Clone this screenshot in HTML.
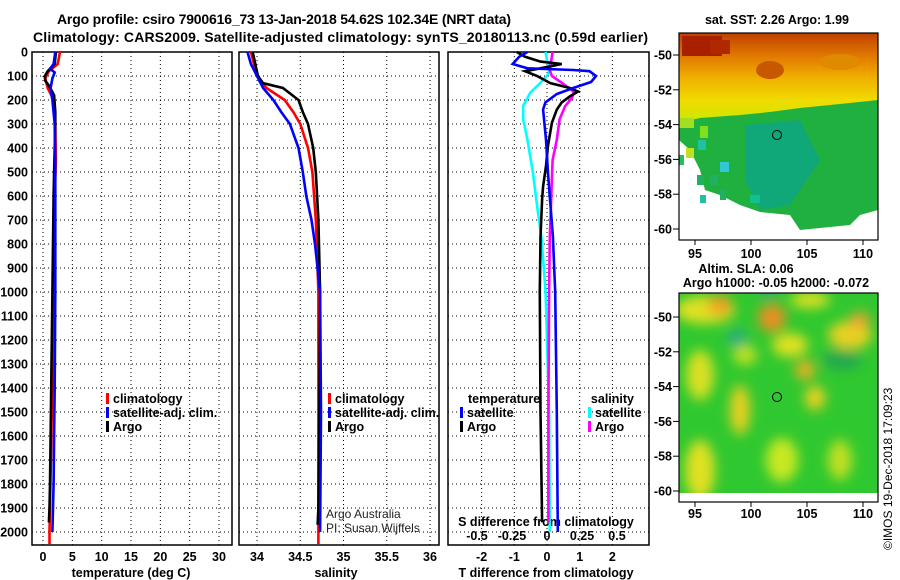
<!DOCTYPE html>
<html><head><meta charset="utf-8"><style>
body{margin:0;background:#fff;}
svg{display:block;font-family:"Liberation Sans",sans-serif;}
.b{font-weight:bold;font-size:12.5px;}
</style></head><body>
<svg id="s" width="900" height="580" xmlns="http://www.w3.org/2000/svg">
<defs>
<filter id="blur" x="-20%" y="-20%" width="140%" height="140%"><feGaussianBlur stdDeviation="6"/></filter>
<clipPath id="c2"><rect x="679" y="293" width="199" height="200"/></clipPath>
<linearGradient id="g1" x1="0" y1="0" x2="0" y2="1">
<stop offset="0" stop-color="#c04000"/><stop offset="0.25" stop-color="#e07800"/><stop offset="0.5" stop-color="#f0b000"/><stop offset="0.75" stop-color="#f0dc00"/><stop offset="1" stop-color="#c8e800"/></linearGradient>
</defs>
<text x="57" y="24" textLength="454" style="font-weight:bold;font-size:14px">Argo profile: csiro 7900616_73 13-Jan-2018 54.62S 102.34E (NRT data)</text>
<text x="33" y="42" textLength="615" style="font-weight:bold;font-size:14px">Climatology: CARS2009. Satellite-adjusted climatology: synTS_20180113.nc (0.59d earlier)</text>

<g>
<rect x="679" y="33" width="199" height="90" fill="url(#g1)"/>
<rect x="682" y="36" width="40" height="20" fill="#a82000"/>
<rect x="710" y="40" width="20" height="14" fill="#b02800"/>
<ellipse cx="770" cy="70" rx="14" ry="9" fill="#c85800"/>
<ellipse cx="840" cy="62" rx="20" ry="8" fill="#e08a00"/>
<polygon points="679,123 700,118 740,115 770,112 800,108 840,104 878,100 878,210 860,215 850,225 800,230 790,215 760,212 740,205 720,195 705,190 700,170 690,150 679,140" fill="#20b040"/>
<polygon points="745,125 800,120 820,160 790,205 760,210 745,180" fill="#10a878"/>
<rect x="679" y="118" width="15" height="10" fill="#a0e020"/>
<rect x="700" y="126" width="8" height="12" fill="#80e020"/>
<rect x="698" y="140" width="8" height="10" fill="#20c0a0"/>
<rect x="679" y="155" width="5" height="10" fill="#20c060"/>
<rect x="686" y="148" width="8" height="10" fill="#c0e020"/>
<rect x="720" y="162" width="9" height="10" fill="#30c8d8"/>
<rect x="697" y="175" width="7" height="10" fill="#20b060"/>
<rect x="710" y="175" width="8" height="10" fill="#20b060"/>
<rect x="720" y="190" width="6" height="10" fill="#20b060"/>
<rect x="700" y="195" width="6" height="8" fill="#20c0a0"/>
<rect x="750" y="195" width="10" height="8" fill="#10c090"/>
<rect x="679" y="232" width="199" height="8" fill="#fff"/>
<circle cx="777" cy="135" r="4.5" fill="none" stroke="#000" stroke-width="1"/>
</g>
<g clip-path="url(#c2)">
<rect x="679" y="293" width="199" height="200" fill="#30c830"/>
<g filter="url(#blur)">
<ellipse cx="705" cy="310" rx="30" ry="14" fill="#e0e020"/>
<ellipse cx="720" cy="305" rx="12" ry="10" fill="#f0a020"/>
<ellipse cx="772" cy="318" rx="14" ry="14" fill="#e89020"/>
<ellipse cx="810" cy="300" rx="20" ry="8" fill="#e0e020"/>
<ellipse cx="850" cy="335" rx="22" ry="14" fill="#e8d020"/>
<ellipse cx="860" cy="320" rx="10" ry="8" fill="#f0a030"/>
<ellipse cx="790" cy="345" rx="18" ry="12" fill="#e0e020"/>
<ellipse cx="805" cy="370" rx="10" ry="10" fill="#e8b020"/>
<ellipse cx="700" cy="375" rx="14" ry="25" fill="#d8e020"/>
<ellipse cx="740" cy="410" rx="10" ry="25" fill="#e8d020"/>
<ellipse cx="745" cy="355" rx="12" ry="10" fill="#c0e020"/>
<ellipse cx="700" cy="470" rx="15" ry="30" fill="#e0e020"/>
<ellipse cx="782" cy="460" rx="16" ry="22" fill="#c8e820"/>
<ellipse cx="815" cy="398" rx="10" ry="12" fill="#f0d020"/>
<ellipse cx="840" cy="460" rx="12" ry="20" fill="#c0e020"/>
<ellipse cx="842" cy="360" rx="20" ry="10" fill="#20a850"/>
<ellipse cx="737" cy="338" rx="9" ry="8" fill="#20a890"/>
<ellipse cx="769" cy="290" rx="10" ry="8" fill="#20a870"/>
</g>
<rect x="679" y="493" width="199" height="12" fill="#fff"/>
<circle cx="777" cy="397" r="4.5" fill="none" stroke="#000" stroke-width="1"/>
</g>
<g id="maps-axes"></g>
<g id="plots"></g>
<text transform="translate(892,550) rotate(-90)" style="font-size:12px">©IMOS 19-Dec-2018 17:09:23</text>
</svg>
<script>
// ---- data ----
const depthTicks=[0,100,200,300,400,500,600,700,800,900,1000,1100,1200,1300,1400,1500,1600,1700,1800,1900,2000];
const tempTicks=[0,5,10,15,20,25,30];
const salTicks=[34,34.5,35,35.5,36];
const tdiffTicks=[-2,-1,0,1,2];
const sdiffTicks=[-0.5,-0.25,0,0.25,0.5];
const argoT_depth=[0,50,80,100,120,140,180,250,300,400,500,600,800,1000,1200,1400,1600,1800,1900,1960];
const argoT_val=[2.2,2.0,0.8,0.3,0.4,1.0,1.9,2.1,2.1,2.0,1.9,1.8,1.7,1.6,1.5,1.4,1.3,1.2,1.1,1.0];
const climT_depth=[0,50,80,110,150,200,300,450,600,1000,1500,2000,2050];
const climT_val=[2.9,2.5,1.0,0.4,0.8,1.8,2.1,2.2,2.0,1.8,1.5,1.1,1.1];
const satT_depth=[0,50,70,85,110,150,200,300,500,1000,1400,1600,1800,2000];
const satT_val=[2.1,1.8,1.2,2.0,1.6,1.3,1.6,2.0,2.1,2.1,2.0,1.9,1.8,1.6];
const argoS_depth=[0,50,100,130,150,200,250,300,400,500,700,1000,1500,1900,1970];
const argoS_val=[33.95,33.98,34.01,34.07,34.30,34.48,34.53,34.59,34.65,34.68,34.71,34.73,34.72,34.71,34.70];
const climS_depth=[0,100,150,200,250,300,400,500,700,1000,2000,2050];
const climS_val=[33.93,34.0,34.11,34.32,34.42,34.5,34.59,34.64,34.68,34.71,34.71,34.71];
const satS_depth=[0,50,100,150,200,250,300,400,500,600,700,800,1000,1500,2000];
const satS_val=[33.89,33.93,34.0,34.07,34.19,34.28,34.38,34.48,34.53,34.57,34.63,34.67,34.73,34.74,34.73];
const satTd_depth=[0,20,50,68,75,80,100,125,150,175,210,240,365,505,770,1000,1500,2000];
const satTd_val=[-0.6,-0.85,-1.05,-0.6,0.8,1.3,1.5,1.35,0.8,0.3,-0.05,-0.12,-0.03,0.03,0.18,0.25,0.3,0.33];
const argoTd_depth=[0,20,40,50,68,80,100,130,150,165,185,210,240,295,390,475,560,615,770,1000,1500,1960];
const argoTd_val=[-0.92,-0.67,-0.2,0.45,-0.2,-0.67,-0.3,0.1,0.7,0.95,0.7,0.45,0.3,0.15,0.03,-0.03,-0.12,-0.15,-0.2,-0.22,-0.2,-0.15];
const satSd_depth=[0,33,75,100,130,170,225,280,365,505,645,770,1000,1500,2000];
const satSd_val=[-0.01,0,0.02,0,-0.05,-0.12,-0.17,-0.17,-0.14,-0.1,-0.07,-0.04,-0.01,0.015,0.02];
const argoSd_depth=[0,75,100,130,165,190,225,280,365,450,530,770,1000,1500,1960];
const argoSd_val=[0.04,0.02,0.035,0.11,0.19,0.18,0.13,0.09,0.07,0.04,0.035,0.02,0.015,0.01,0.01];
const latTicks=[-50,-52,-54,-56,-58,-60];
const lonTicks=[95,100,105,110];

// ---- scales ----
const Y0=52,Ybot=545;
const y=d=>Y0+d*0.24;
const xT=v=>43+v*5.867;
const xS=v=>257+(v-34)*86.5;
const xTd=v=>547+v*32.7;
const xSd=v=>547+v*140;
const NS="http://www.w3.org/2000/svg";
const root=document.getElementById('plots');
function el(tag,attrs,parent,text){const e=document.createElementNS(NS,tag);for(const k in attrs)e.setAttribute(k,attrs[k]);if(text!==undefined)e.textContent=text;(parent||root).appendChild(e);return e;}
function line(d,v,fx,color,name,g){
  const pts=d.map((dd,i)=>fx(v[i]).toFixed(1)+','+y(dd).toFixed(1)).join(' ');
  const p=el('polyline',{points:pts,fill:'none',stroke:color,'stroke-width':2.6,'stroke-linejoin':'miter'},g);
  
  
}
function panel(x0,x1,ticks,fx,name){
  const g=el('g',{});
  
  
  depthTicks.forEach(d=>el('line',{x1:x0,x2:x1,y1:y(d),y2:y(d),stroke:'#000','stroke-width':1,'stroke-dasharray':'1,3'},g));
  ticks.forEach(t=>el('line',{x1:fx(t),x2:fx(t),y1:Y0,y2:Ybot,stroke:'#000','stroke-width':1,'stroke-dasharray':'1,3'},g));
  el('rect',{x:x0,y:Y0,width:x1-x0,height:Ybot-Y0,fill:'none',stroke:'#000','stroke-width':1.5},g);
  return g;
}
const g1=panel(32,232,tempTicks,xT,'temperature-panel');
depthTicks.forEach(d=>{const t=el('text',{x:28,y:y(d)+4.5,'text-anchor':'end',class:'b'},root,String(d));

});
tempTicks.forEach(t=>{const e=el('text',{x:xT(t),y:561,'text-anchor':'middle',class:'b'},g1,String(t));

});
el('text',{x:131,y:577,'text-anchor':'middle',class:'b'},g1,'temperature (deg C)');
line(climT_depth,climT_val,xT,'#ff0000','climatology-temperature-line',g1);
line(argoT_depth,argoT_val,xT,'#000','argo-temperature-line',g1);
line(satT_depth,satT_val,xT,'#0000ff','satellite-temperature-line',g1);
const g2=panel(239,439,salTicks,xS,'salinity-panel');
salTicks.forEach(t=>{const e=el('text',{x:xS(t),y:561,'text-anchor':'middle',class:'b'},g2,String(t));

});
el('text',{x:336,y:577,'text-anchor':'middle',class:'b'},g2,'salinity');
line(climS_depth,climS_val,xS,'#ff0000','climatology-salinity-line',g2);
line(argoS_depth,argoS_val,xS,'#000','argo-salinity-line',g2);
line(satS_depth,satS_val,xS,'#0000ff','satellite-salinity-line',g2);
el('text',{x:326,y:518,style:'font-size:12px;fill:#222'},g2,'Argo Australia');
el('text',{x:326,y:532,style:'font-size:12px;fill:#222'},g2,'PI: Susan Wijffels');
const g3=panel(448,649,tdiffTicks,xTd,'difference-panel');
tdiffTicks.forEach(t=>{const e=el('text',{x:xTd(t),y:561,'text-anchor':'middle',class:'b'},g3,String(t));

});
sdiffTicks.forEach(t=>{const e=el('text',{x:xSd(t),y:540,'text-anchor':'middle',class:'b'},g3,String(t));

});
el('text',{x:546,y:526,'text-anchor':'middle',class:'b'},g3,'S difference from climatology');
el('text',{x:546,y:577,'text-anchor':'middle',class:'b'},g3,'T difference from climatology');
line(satSd_depth,satSd_val,xSd,'#00ffff','satellite-salinity-diff-line',g3);
line(argoSd_depth,argoSd_val,xSd,'#ff00ff','argo-salinity-diff-line',g3);
line(argoTd_depth,argoTd_val,xTd,'#000','argo-temperature-diff-line',g3);
line(satTd_depth,satTd_val,xTd,'#0000ff','satellite-temperature-diff-line',g3);
function legend(x,yy,color,label,name){
  const g=el('g',{});
  
  
  el('rect',{x:x,y:yy-10,width:3,height:11,fill:color},g);
  el('text',{x:x+7,y:yy,class:'b'},g,label);
}
legend(106,403,'#ff0000','climatology','legend-climatology');
legend(106,417,'#0000ff','satellite-adj. clim.','legend-satellite-adj');
legend(106,431,'#000','Argo','legend-argo');
legend(328,403,'#ff0000','climatology','legend-climatology-sal');
legend(328,417,'#0000ff','satellite-adj. clim.','legend-satellite-adj-sal');
legend(328,431,'#000','Argo','legend-argo-sal');
el('text',{x:468,y:403,class:'b'},g3,'temperature');
el('text',{x:634,y:403,class:'b','text-anchor':'end'},g3,'salinity');
legend(460,417,'#0000ff','satellite','legend-t-satellite');
legend(460,431,'#000','Argo','legend-t-argo');
legend(588,417,'#00ffff','satellite','legend-s-satellite');
legend(588,431,'#ff00ff','Argo','legend-s-argo');

const ma=document.getElementById('maps-axes');
function mapAxes(top,bottom,lat50,lat60,labY,name){
  const g=el('g',{},ma);
  
  
  el('rect',{x:679,y:top,width:199,height:bottom-top,fill:'none',stroke:'#000','stroke-width':1.2},g);
  const ly=v=>lat50+(-50-v)*(lat60-lat50)/10;
  const lx=v=>695+(v-95)*11.2;
  latTicks.forEach(v=>{el('line',{x1:673,x2:679,y1:ly(v),y2:ly(v),stroke:'#000'},g);
    el('text',{x:672,y:ly(v)+4.5,'text-anchor':'end',class:'b'},g,String(v));});
  lonTicks.forEach(v=>{el('line',{x1:lx(v),x2:lx(v),y1:bottom,y2:bottom+5,stroke:'#000'},g);
    el('text',{x:lx(v),y:labY,'text-anchor':'middle',class:'b'},g,String(v));});
}
mapAxes(33,240,55,229,258,'sst-map-axes');
mapAxes(293,502,317,491,518,'sla-map-axes');
el('text',{x:777,y:24,'text-anchor':'middle',class:'b'},ma,'sat. SST: 2.26 Argo: 1.99');
el('text',{x:746,y:273,'text-anchor':'middle',class:'b'},ma,'Altim. SLA: 0.06');
el('text',{x:776,y:287,'text-anchor':'middle',class:'b'},ma,'Argo h1000: -0.05 h2000: -0.072');
</script>
</body></html>
